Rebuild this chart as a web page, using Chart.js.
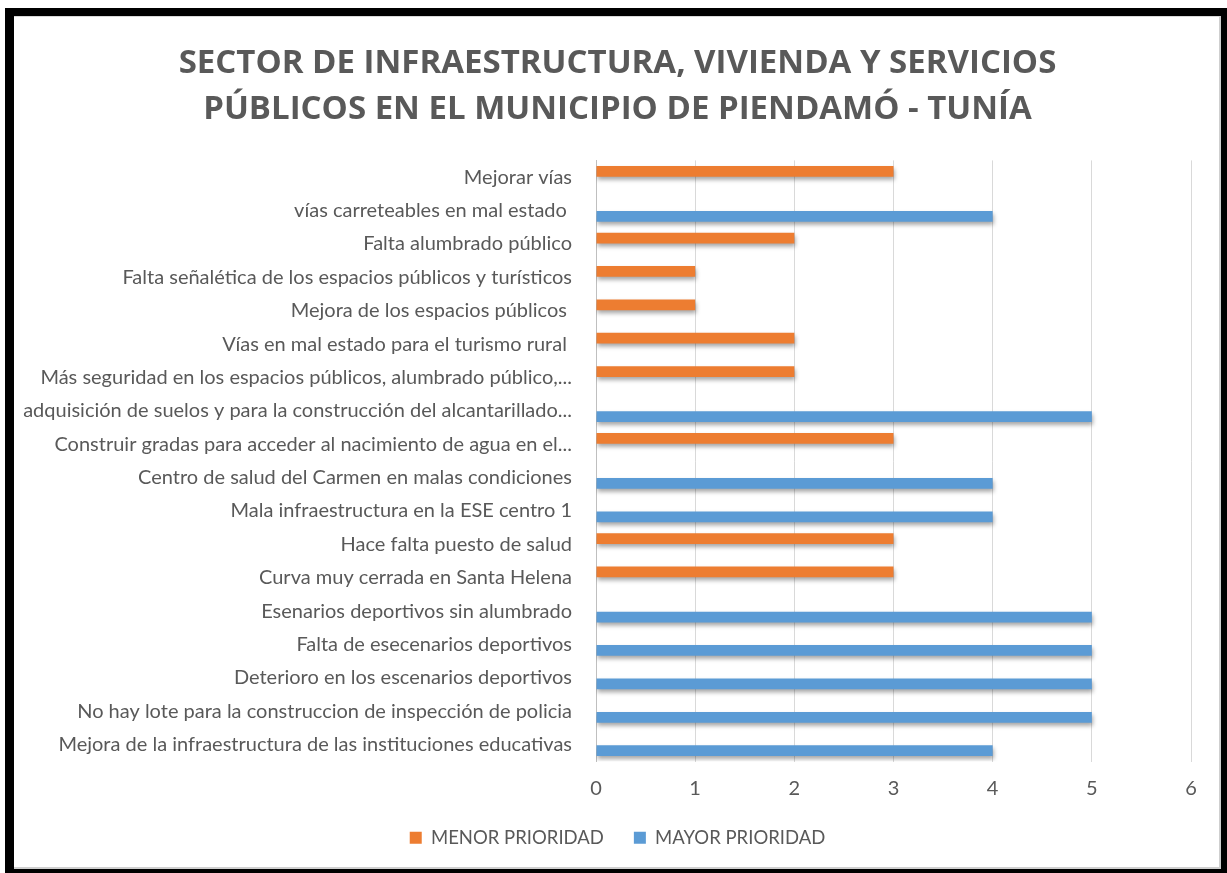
<!DOCTYPE html>
<html>
<head>
<meta charset="utf-8">
<script src="https://cdn.jsdelivr.net/npm/chart.js@4/dist/chart.umd.min.js"></script>
<style>
  html, body { margin: 0; padding: 0; background: #fff; }
  #frame { position: absolute; left: 5px; top: 8px; width: 1222px; height: 865px; background: #000; }
  #panel { position: absolute; left: 14px; top: 16px; width: 1207px; height: 853px; background: #fff;
           box-sizing: border-box; border-top: 1px solid #d8d8d8; border-right: 2px solid #cfcfcf; border-bottom: 2px solid #cfcfcf; }
  #chart { position: absolute; left: 14px; top: 16px; }
</style>
</head>
<body>
<div id="frame"></div>
<div id="panel"></div>
<canvas id="chart" width="1207" height="853"></canvas>
<script>
// categories, top to bottom as they appear in the chart
const categories = [
    'Mejorar vías',
    'vías carreteables en mal estado ',
    'Falta alumbrado público',
    'Falta señalética de los espacios públicos y turísticos',
    'Mejora de los espacios públicos ',
    'Vías en mal estado para el turismo rural ',
    'Más seguridad en los espacios públicos, alumbrado público,...',
    'adquisición de suelos y para la construcción del alcantarillado...',
    'Construir gradas para acceder al nacimiento de agua en el...',
    'Centro de salud del Carmen en malas condiciones',
    'Mala infraestructura en la ESE centro 1',
    'Hace falta puesto de salud',
    'Curva muy cerrada en Santa Helena',
    'Esenarios deportivos sin alumbrado',
    'Falta de esecenarios deportivos',
    'Deterioro en los escenarios deportivos',
    'No hay lote para la construccion de inspección de policia',
    'Mejora de la infraestructura de las instituciones educativas'
];
const menorPrioridad = [3, null, 2, 1, 1, 2, 2, null, 3, null, null, 3, 3, null, null, null, null, null];
const mayorPrioridad = [null, 4, null, null, null, null, null, 5, null, 4, 4, null, null, 5, 5, 5, 5, 4];
const xTicks = [0, 1, 2, 3, 4, 5, 6];

const textColor = '#595959';

// soft drop shadow under the bars, like the office style
const barShadow = {
    id: 'barShadow',
    beforeDatasetsDraw(chart) {
        const ctx = chart.ctx;
        ctx.save();
        ctx.shadowColor = 'rgba(0,0,0,0.35)';
        ctx.shadowBlur = 4;
        ctx.shadowOffsetX = 1;
        ctx.shadowOffsetY = 3;
    },
    afterDatasetsDraw(chart) {
        chart.ctx.restore();
    }
};

const ctx = document.getElementById('chart').getContext('2d');
new Chart(ctx, {
    type: 'bar',
    data: {
        labels: categories,
        datasets: [
            { label: 'MENOR PRIORIDAD', data: menorPrioridad, backgroundColor: '#ED7D31' },
            { label: 'MAYOR PRIORIDAD', data: mayorPrioridad, backgroundColor: '#5B9BD5' }
        ]
    },
    options: {
        indexAxis: 'y',
        responsive: false,
        animation: false,
        categoryPercentage: 0.7,
        barPercentage: 0.92,
        layout: { padding: { left: 0, right: 0, top: 0, bottom: 12 } },
        plugins: {
            title: {
                display: true,
                text: ['SECTOR DE INFRAESTRUCTURA, VIVIENDA Y SERVICIOS', 'PÚBLICOS EN EL MUNICIPIO DE PIENDAMÓ - TUNÍA'],
                color: textColor,
                font: { family: '"Open Sans", sans-serif', size: 33, weight: 'bold', lineHeight: 1.4 },
                padding: { top: 24, bottom: 28 }
            },
            legend: {
                position: 'bottom',
                labels: {
                    color: textColor,
                    font: { family: 'Lato, sans-serif', size: 18.5 },
                    boxWidth: 12,
                    boxHeight: 12,
                    padding: 30
                }
            },
            tooltip: { enabled: false }
        },
        scales: {
            x: {
                min: 0,
                max: 6,
                afterBuildTicks(scale) {
                    scale.ticks = xTicks.map(v => ({ value: v }));
                },
                afterFit(scale) {
                    scale.height = scale.height - 17;
                    scale.paddingRight = 30;
                },
                grid: { color: '#d9d9d9', drawTicks: false },
                border: { display: false },
                ticks: {
                    color: textColor,
                    font: { family: 'Lato, sans-serif', size: 20 },
                    padding: 15
                }
            },
            y: {
                grid: { display: false, drawTicks: false },
                border: { display: true, color: '#bfbfbf' },
                afterFit(scale) {
                    scale.width = 582;
                },
                ticks: {
                    color: textColor,
                    font: { family: 'Lato, sans-serif', size: 20 },
                    padding: 24,
                    autoSkip: false
                }
            }
        }
    },
    plugins: [barShadow]
});
</script>
</body>
</html>
